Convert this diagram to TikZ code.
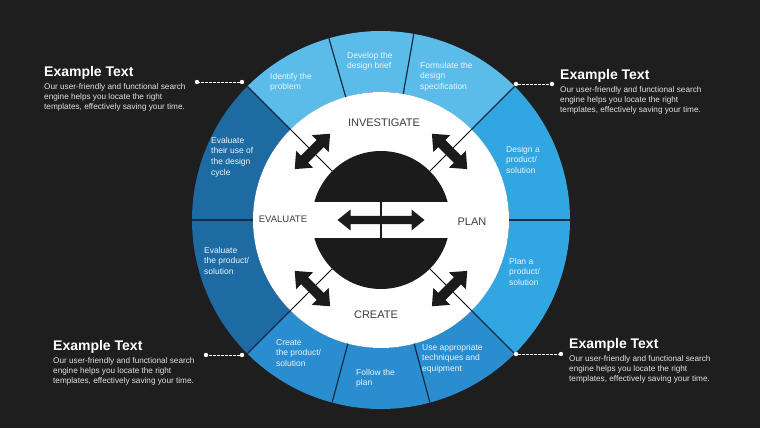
\documentclass[tikz,border=0pt]{standalone}
\usepackage{fontspec}
\setmainfont{Liberation Sans}
\usetikzlibrary{calc}
\definecolor{bg}{HTML}{1E1E1E}
\definecolor{segtop}{HTML}{5BBCE9}
\definecolor{segright}{HTML}{31A6E0}
\definecolor{segbottom}{HTML}{2A8DD0}
\definecolor{segleft}{HTML}{1E6BA3}
\definecolor{sepcol}{HTML}{152B45}
\definecolor{segtext}{HTML}{EAF5FC}
\definecolor{ringtext}{HTML}{3C3C3C}
\definecolor{core}{HTML}{1B1B1B}
\definecolor{bodytext}{HTML}{E2E2E2}
\newcommand\ringsector[3]{%
  \fill[#1] ($(C)+(#2:189)$) arc[start angle=#2,end angle=#3,radius=189]
    -- ($(C)+(#3:128)$) arc[start angle=#3,end angle=#2,radius=128] -- cycle;}
% center, angle, length, head length, head half width, shaft half width
\newcommand\dblarrow[6]{%
  \begin{scope}[shift={(#1)},rotate=#2]
  \fill[core] ({-#3/2},0) -- ({-#3/2+#4},#5) -- ({-#3/2+#4},#6) -- ({#3/2-#4},#6)
    -- ({#3/2-#4},#5) -- ({#3/2},0) -- ({#3/2-#4},-#5) -- ({#3/2-#4},-#6)
    -- ({-#3/2+#4},-#6) -- ({-#3/2+#4},-#5) -- cycle;
  \end{scope}}
\tikzset{
  segtxt/.style={anchor=north west,inner sep=0pt,align=left,text=segtext,
    font=\fontsize{8.5}{10.6}\selectfont},
  ringlbl/.style={inner sep=0pt,text=ringtext,font=\fontsize{11}{13}\selectfont},
  title/.style={anchor=base west,inner sep=0pt,text=white,
    font=\bfseries\fontsize{14}{16}\selectfont},
  bodytxt/.style={anchor=north west,inner sep=0pt,align=left,text=bodytext,
    font=\fontsize{8.2}{10}\selectfont},
  dotnode/.style={circle,fill=white,inner sep=0pt,minimum size=4.4pt},
  dashline/.style={white,line width=0.8pt,dash pattern=on 2.4pt off 1.6pt},
  sepline/.style={sepcol,line width=1.2pt},
  spoke/.style={black,line width=0.8pt}
}
\begin{document}
\begin{tikzpicture}[x=1pt,y=1pt]
\useasboundingbox (0,0) rectangle (760,428);
\fill[bg] (0,0) rectangle (760,428);
\coordinate (C) at (381,208);
% ring sectors
\ringsector{segright}{0}{45}
\ringsector{segtop}{45}{80}
\ringsector{segtop}{80}{106}
\ringsector{segtop}{106}{135}
\ringsector{segleft}{135}{180}
\ringsector{segleft}{180}{225}
\ringsector{segbottom}{225}{255}
\ringsector{segbottom}{255}{285}
\ringsector{segbottom}{285}{315}
\ringsector{segright}{315}{360}
\fill[white] (C) circle[radius=128];
\foreach \a in {0,45,80,106,135,180,225,255,285,315}
  \draw[sepline] ($(C)+(\a:128)$) -- ($(C)+(\a:189)$);
\foreach \a in {45,135,225,315}
  \draw[spoke] ($(C)+(\a:69)$) -- ($(C)+(\a:128)$);
% core
\fill[core] (C) circle[radius=69];
\fill[white] ($(C)+(-70,-18)$) rectangle ($(C)+(70,18)$);
\draw[core,line width=1.6pt] ($(C)+(0,-18)$) -- ($(C)+(0,18)$);
\dblarrow{C}{0}{87}{13}{10.5}{4.2}
\coordinate (A1) at ($(C)+(45:97)$);
\coordinate (A2) at ($(C)+(135:97)$);
\coordinate (A3) at ($(C)+(225:97)$);
\coordinate (A4) at ($(C)+(315:97)$);
\dblarrow{A1}{135}{50}{14}{12}{5}
\dblarrow{A2}{45}{50}{14}{12}{5}
\dblarrow{A3}{135}{50}{14}{12}{5}
\dblarrow{A4}{45}{50}{14}{12}{5}
% ring labels
\node[ringlbl] (inv) at (384,305) {INVESTIGATE};
\node[ringlbl] (plan) at (472,206) {PLAN};
\node[ringlbl] (create) at (376,113) {CREATE};
\node[ringlbl,font=\fontsize{9.5}{11}\selectfont] (eval) at (283,209) {EVALUATE};
% segment texts
\node[segtxt] (s1) at (270,355) {Identify the\\problem};
\node[segtxt] (s2) at (347,376) {Develop the\\design brief};
\node[segtxt] (s3) at (420,366) {Formulate the\\design\\specification};
\node[segtxt] (s4) at (506,282) {Design a\\product/\\solution};
\node[segtxt] (s5) at (509,170) {Plan a\\product/\\solution};
\node[segtxt] (s6) at (422,84) {Use appropriate\\techniques and\\equipment};
\node[segtxt] (s7) at (356,59) {Follow the\\plan};
\node[segtxt] (s8) at (276,89) {Create\\the product/\\solution};
\node[segtxt] (s9) at (204,181) {Evaluate\\the product/\\solution};
\node[segtxt] (s10) at (211,291) {Evaluate\\their use of\\the design\\cycle};
% callouts
\node[title] (t1) at (44,351) {Example Text};
\node[bodytxt] (b1) at (44,345) {Our user-friendly and functional search\\engine helps you locate the right\\templates, effectively saving your time.};
\node[title] (t2) at (560,348) {Example Text};
\node[bodytxt] (b2) at (560,342) {Our user-friendly and functional search\\engine helps you locate the right\\templates, effectively saving your time.};
\node[title] (t3) at (53,77) {Example Text};
\node[bodytxt] (b3) at (53,71) {Our user-friendly and functional search\\engine helps you locate the right\\templates, effectively saving your time.};
\node[title] (t4) at (569,79) {Example Text};
\node[bodytxt] (b4) at (569,73) {Our user-friendly and functional search\\engine helps you locate the right\\templates, effectively saving your time.};
% dotted connectors
\node[dotnode] (d1a) at (242,346) {};
\node[dotnode] (d1b) at (197,346) {};
\node[dotnode] (d2a) at (516,344) {};
\node[dotnode] (d2b) at (552,344) {};
\node[dotnode] (d3a) at (242,73) {};
\node[dotnode] (d3b) at (206,73) {};
\node[dotnode] (d4a) at (516,74) {};
\node[dotnode] (d4b) at (561,74) {};
\draw[dashline] (d1a) -- (d1b);
\draw[dashline] (d2a) -- (d2b);
\draw[dashline] (d3a) -- (d3b);
\draw[dashline] (d4a) -- (d4b);
\end{tikzpicture}
\end{document}
